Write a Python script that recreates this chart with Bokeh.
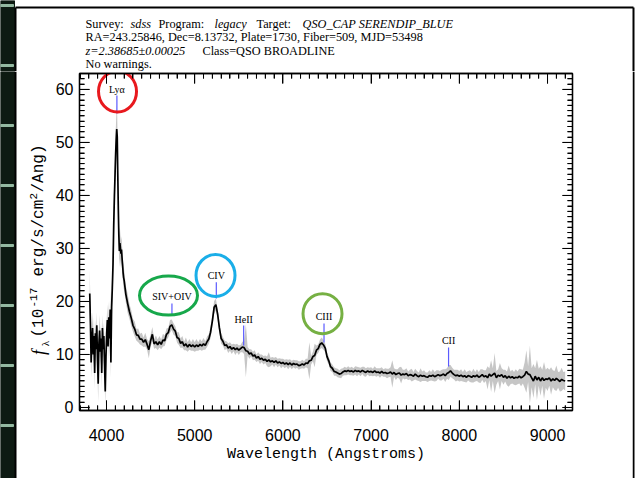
import numpy as np
from bokeh.plotting import figure
from bokeh.layouts import column, row
from bokeh.models import LinearAxis, SingleIntervalTicker, Range1d
from bokeh.core.properties import value
from bokeh.embed import file_html
from bokeh.resources import INLINE

# ---- spectrum: observed wavelength (Angstrom), flux and 1-sigma error ----
WAVE = [
    3810, 3818, 3826, 3834, 3842, 3850, 3858, 3866, 3874, 3882, 3890, 3898, 3906,
    3914, 3922, 3930, 3938, 3946, 3954, 3962, 3970, 3978, 3986, 3994, 4002, 4010,
    4018, 4026, 4034, 4042, 4050, 4058, 4066, 4074, 4082, 4090, 4098,
    4104, 4110, 4116, 4122, 4128, 4134, 4140, 4146, 4152, 4158, 4164, 4170, 4176,
    4182, 4188, 4194,
    4200, 4220, 4240, 4260, 4280, 4300, 4320, 4340, 4360, 4380,
    4400, 4420, 4440, 4460, 4480, 4500, 4520, 4540, 4560, 4580,
    4600, 4620, 4640, 4660, 4680, 4700, 4720, 4740, 4760, 4780,
    4800, 4820, 4840, 4860, 4880, 4900, 4920, 4940, 4960, 4980,
    5000, 5020, 5040, 5060, 5080, 5100, 5120, 5140, 5160, 5180,
    5200, 5220, 5240, 5260, 5280, 5300, 5320, 5340, 5360, 5380,
    5400, 5420, 5440, 5460, 5480, 5500, 5520, 5540, 5560, 5580,
    5600, 5620, 5640, 5660, 5680, 5700, 5720, 5740, 5760, 5780,
    5800, 5820, 5840, 5860, 5880, 5900, 5920, 5940, 5960, 5980,
    6000, 6020, 6040, 6060, 6080, 6100, 6120, 6140, 6160, 6180,
    6200, 6220, 6240, 6260, 6280, 6300, 6320, 6340, 6360, 6380,
    6400, 6420, 6440, 6460, 6480, 6500, 6520, 6540, 6560, 6580,
    6600, 6620, 6640, 6660, 6680, 6700, 6720, 6740, 6760, 6780,
    6800, 6820, 6840, 6860, 6880, 6900, 6920, 6940, 6960, 6980,
    7000, 7020, 7040, 7060, 7080, 7100, 7120, 7140, 7160, 7180,
    7200, 7220, 7240, 7260, 7280, 7300, 7320, 7340, 7360, 7380,
    7400, 7420, 7440, 7460, 7480, 7500, 7520, 7540, 7560, 7580,
    7600, 7620, 7640, 7660, 7680, 7700, 7720, 7740, 7760, 7780,
    7800, 7820, 7840, 7860, 7880, 7900, 7920, 7940, 7960, 7980,
    8000, 8020, 8040, 8060, 8080, 8100, 8120, 8140, 8160, 8180,
    8200, 8220, 8240, 8260, 8280, 8300, 8320, 8340, 8360, 8380,
    8400, 8420, 8440, 8460, 8480, 8500, 8520, 8540, 8560, 8580,
    8600, 8620, 8640, 8660, 8680, 8700, 8720, 8740, 8760, 8780,
    8800, 8820, 8840, 8860, 8880, 8900, 8920, 8940, 8960, 8980,
    9000, 9020, 9040, 9060, 9080, 9100, 9120, 9140, 9160, 9180,
    9200,
]

FLUX = [
    21.5, 16.0, 8.5, 12.5, 15.0, 10.0, 13.5, 6.5, 14.0, 11.0, 15.5, 9.0, 4.5,
    12.0, 14.5, 10.5, 13.0, 6.5, 15.0, 11.0, 13.5, 8.0, 3.0, 9.5, 14.0, 16.5,
    11.5, 17.0, 13.0, 18.5, 8.5, 19.0, 22.5, 27.0, 34.5, 40.0, 44.5,
    48.0, 50.5, 52.5, 51.0, 44.0, 37.5, 32.5, 29.5, 31.0, 30.0, 29.0, 29.8, 28.3,
    27.0, 25.5, 24.5,
    24.0, 21.3, 19.6, 18.1, 16.9, 15.5, 14.8, 13.7, 13.6, 12.9,
    12.9, 12.3, 12.8, 11.9, 10.9, 12.6, 13.8, 12.0, 12.4, 11.8,
    12.4, 11.9, 12.7, 12.6, 13.8, 14.1, 15.3, 15.6, 14.8, 14.4,
    13.2, 13.0, 12.1, 12.4, 11.6, 12.0, 11.4, 11.9, 11.5, 11.8,
    11.4, 11.8, 11.5, 11.9, 11.6, 12.0, 11.7, 12.4, 12.9, 14.2,
    16.3, 18.9, 19.4, 17.6, 15.0, 13.0, 12.5, 11.7, 11.8, 11.2,
    11.5, 11.0, 11.3, 10.9, 11.2, 10.8, 11.1, 11.4, 11.3, 10.7,
    10.6, 10.1, 10.3, 9.7, 9.9, 9.3, 9.6, 9.1, 9.3, 8.9,
    9.1, 8.7, 9.0, 8.6, 8.8, 8.5, 8.8, 8.4, 8.6, 8.3,
    8.5, 8.2, 8.4, 8.1, 8.4, 8.0, 8.3, 8.1, 8.2, 7.9,
    8.0, 8.2, 8.0, 8.4, 8.3, 8.8, 8.9, 9.6, 9.8, 10.8,
    11.1, 11.9, 12.2, 11.8, 11.2, 9.6, 8.8, 7.7, 7.4, 6.8,
    6.7, 6.5, 6.3, 6.4, 6.7, 6.9, 6.8, 7.0, 6.8, 6.9,
    6.7, 7.0, 6.8, 6.9, 6.7, 7.0, 6.8, 6.6, 6.9, 6.7,
    6.8, 6.6, 6.9, 6.6, 6.7, 6.5, 6.8, 6.5, 6.6, 6.4,
    6.5, 6.7, 6.3, 6.6, 6.2, 6.4, 6.5, 6.1, 6.3, 6.2,
    6.4, 6.0, 6.2, 6.1, 5.9, 6.3, 6.0, 5.8, 6.1, 5.9,
    6.0, 5.8, 5.7, 6.0, 5.9, 6.1, 5.8, 6.0, 6.2, 6.0,
    6.1, 6.3, 6.0, 6.4, 6.6, 6.9, 6.5, 6.2, 6.0, 6.1,
    5.9, 6.1, 5.8, 6.0, 5.7, 6.0, 5.9, 5.7, 6.0, 5.8,
    6.1, 5.7, 5.9, 6.2, 5.8, 6.0, 5.6, 6.3, 5.9, 6.2,
    6.5, 5.6, 6.1, 5.9, 6.2, 5.7, 6.0, 5.5, 5.9, 5.6,
    5.8, 5.5, 5.7, 5.6, 5.9, 5.6, 5.8, 6.1, 6.8, 6.3,
    6.2, 5.6, 5.0, 5.9, 5.2, 5.7, 5.0, 5.6, 5.1, 5.4,
    5.3, 5.6, 5.0, 5.4, 5.1, 5.5, 5.2, 4.9, 5.3, 5.1,
    5.0,
]

ERR = [
    4.5, 3.5, 3.0, 2.5, 3.0, 2.5, 3.5, 3.0, 2.5, 3.0, 2.5, 3.0, 3.5,
    2.5, 3.0, 2.5, 3.0, 3.0, 2.5, 3.0, 2.5, 3.0, 2.5, 3.0, 2.5, 3.0,
    2.5, 3.0, 3.0, 3.5, 3.0, 3.5, 3.5, 4.0, 4.0, 4.5, 4.0,
    4.0, 4.0, 4.5, 4.0, 3.5, 3.5, 3.0, 3.0, 3.0, 2.5, 2.5, 2.5, 2.5,
    2.0, 2.0, 2.0,
    2.0, 1.6, 1.8, 1.4, 1.5, 1.2, 1.4, 1.1, 1.3, 1.0,
    1.2, 0.9, 1.3, 1.0, 1.6, 1.1, 1.4, 0.9, 1.2, 1.0,
    1.1, 0.9, 1.2, 1.0, 1.1, 0.9, 1.2, 1.0, 1.1, 0.9,
    1.0, 1.2, 0.9, 1.1, 0.8, 1.2, 0.9, 1.0, 0.8, 1.1,
    0.9, 1.1, 0.8, 1.0, 0.9, 1.1, 0.8, 1.0, 0.9, 1.1,
    1.0, 1.2, 1.1, 1.0, 0.9, 1.0, 0.8, 0.9, 0.7, 0.9,
    0.8, 0.9, 0.7, 1.0, 0.8, 0.9, 0.7, 1.0, 1.2, 5.0,
    0.8, 0.9, 0.7, 0.8, 0.9, 0.7, 0.8, 0.9, 0.7, 0.8,
    0.7, 0.9, 1.4, 0.8, 0.7, 0.9, 0.7, 0.8, 0.7, 0.9,
    0.7, 0.8, 0.7, 0.9, 0.7, 0.8, 0.7, 0.8, 0.7, 0.8,
    0.7, 0.8, 0.7, 0.8, 0.9, 3.5, 0.8, 0.9, 2.2, 0.9,
    0.8, 0.9, 1.0, 0.9, 0.8, 0.9, 0.7, 0.8, 0.7, 0.8,
    0.7, 0.8, 0.7, 0.9, 0.7, 0.8, 0.7, 0.8, 0.7, 0.8,
    0.7, 0.8, 0.9, 0.7, 0.8, 0.7, 0.9, 0.8, 0.7, 0.8,
    0.8, 0.7, 0.9, 0.8, 0.7, 0.9, 0.8, 0.7, 0.8, 0.9,
    0.8, 0.9, 2.6, 0.8, 1.0, 0.8, 1.1, 1.6, 0.8, 0.9,
    1.0, 0.8, 0.9, 1.2, 0.8, 1.0, 0.9, 0.8, 1.3, 0.9,
    1.0, 0.8, 0.9, 1.0, 0.8, 1.1, 0.9, 1.0, 0.8, 0.9,
    1.0, 0.9, 1.2, 1.0, 1.4, 1.1, 1.0, 0.9, 1.1, 1.0,
    1.0, 1.1, 0.9, 1.2, 1.0, 0.9, 1.1, 1.0, 1.3, 0.9,
    1.1, 1.0, 1.3, 1.0, 1.2, 1.0, 2.2, 1.1, 3.0, 1.2,
    3.8, 1.3, 1.1, 2.5, 1.2, 1.4, 1.1, 1.3, 2.0, 1.2,
    1.3, 1.2, 1.5, 1.2, 1.4, 1.6, 1.3, 2.4, 4.0, 1.5,
    5.5, 1.8, 3.2, 1.5, 3.8, 1.6, 2.8, 1.5, 3.5, 1.7,
    2.2, 1.5, 2.6, 1.6, 1.8, 2.4, 1.5, 1.9, 2.2, 1.6,
    1.8,
]

# ---- emission-line identifications ----
LINE_NAMES = ["Lyα", "SIV+OIV", "CIV", "HeII", "CIII", "CII"]
LINE_WAVE = [4118, 4742, 5245, 5555, 6466, 7878]
LINE_TICK_LO = [55.45, 17.35, 20.56, 11.7, 12.26, 7.73]
LINE_TICK_HI = [58.85, 19.6, 23.6, 15.46, 15.84, 11.3]
LINE_LABEL_Y = [60.0, 20.9, 24.9, 16.6, 17.2, 12.6]

# highlight rings drawn around selected line labels
RING_X = [4125, 4703, 5236, 6449]
RING_Y = [59.6, 21.1, 24.9, 17.7]
RING_W = [38, 58, 39, 39]
RING_H = [41, 39, 42, 40]
RING_COLORS = ["#e8191e", "#17a84b", "#1aaee8", "#76b043"]

# header block: (text, italic, left edge in px)
HEADER = [
    [("Survey:", False, 85), ("sdss", True, 130), ("Program:", False, 158),
     ("legacy", True, 214), ("Target:", False, 256), ("QSO_CAP SERENDIP_BLUE", True, 302)],
    [("RA=243.25846, Dec=8.13732, Plate=1730, Fiber=509, MJD=53498", False, 85)],
    [("z=2.38685±0.00025", True, 85), ("Class=QSO BROADLINE", False, 202)],
    [("No warnings.", False, 85)],
]
HEADER_Y = [23, 36.5, 50, 63.5]

# axis ranges and tick spacing
X_RANGE = (3694, 9283)
Y_RANGE = (-0.57, 63.0)
X_MAJOR, X_MINOR = 1000, 100
Y_MAJOR, Y_MINOR = 10, 1

# page geometry (px)
W, H = 638, 483
HEAD_H = 71          # header strip height
BOT_H = 5            # strip below the plot row
LEFT_W = 50          # column holding the y title
RIGHT_W = 6
STRIP_W = 14
BORDER_X0, BORDER_X1, BORDER_Y0, BORDER_Y1 = 15, 633, 7, 480
MARK_Y = [5, 65, 125, 185, 245, 305, 365, 425]
STRIP_COLOR = "#0d1a12"
MARK_COLOR = "#93b8a0"
PAD_L, PAD_R, PAD_T, PAD_B = 29, 60, 2, 68
MAJOR_LEN, MINOR_LEN = 10, 5


def bare(width, height, x0, x1, y0, y1):
    """A figure without axes whose data coordinates are page pixels (y downwards)."""
    f = figure(width=width, height=height, x_range=Range1d(x0, x1), y_range=Range1d(y1, y0),
               x_axis_type=None, y_axis_type=None, min_border=0, frame_align=False,
               output_backend="svg", toolbar_location=None,
               background_fill_color="white", border_fill_color="white")
    f.outline_line_color = None
    return f


def strip(f, y0, y1):
    # dark strip at the page's left edge with its light marks
    f.quad(left=[0], right=[STRIP_W], top=[y0], bottom=[y1], color=STRIP_COLOR)
    my = [m for m in MARK_Y if y0 - 2 <= m <= y1 + 2]
    if my:
        f.quad(left=[0] * len(my), right=[STRIP_W - 1] * len(my),
               top=[m - 1 for m in my], bottom=[m + 1 for m in my], color=MARK_COLOR)


def side_lines(f, y0, y1):
    f.segment(x0=[BORDER_X0, BORDER_X1], y0=[max(y0, BORDER_Y0)] * 2,
              x1=[BORDER_X0, BORDER_X1], y1=[min(y1, BORDER_Y1)] * 2,
              line_color="black", line_width=2)


# ---- header ----
head = bare(W, HEAD_H, 0, W, 0, HEAD_H)
strip(head, 0, HEAD_H)
side_lines(head, 0, HEAD_H)
head.segment(x0=[BORDER_X0], y0=[BORDER_Y0], x1=[BORDER_X1], y1=[BORDER_Y0],
             line_color="black", line_width=2)
for pieces, yy in zip(HEADER, HEADER_Y):
    for txt, ital, xx in pieces:
        head.text(x=[xx], y=[yy], text=[txt], text_font=value("Liberation Serif"),
                  text_font_size="12.3px", text_font_style="italic" if ital else "normal",
                  text_align="left", text_baseline="middle", text_color="black")

# ---- main spectrum panel ----
MAIN_W = W - LEFT_W - RIGHT_W
MAIN_H = H - HEAD_H - BOT_H
FRAME_W = MAIN_W - PAD_L - PAD_R
FRAME_H = MAIN_H - PAD_T - PAD_B
wave = np.array(WAVE, dtype=float)
flux = np.array(FLUX)
err = np.array(ERR)

p = figure(width=MAIN_W, height=MAIN_H, output_backend="svg", toolbar_location=None,
           x_range=Range1d(*X_RANGE), y_range=Range1d(*Y_RANGE),
           min_border_left=PAD_L, min_border_right=PAD_R,
           min_border_top=PAD_T, min_border_bottom=PAD_B,
           frame_align=False, background_fill_color="white", border_fill_color="white")
p.grid.visible = False
p.outline_line_color = "black"
p.outline_line_width = 1.3

xt = SingleIntervalTicker(interval=X_MAJOR, num_minor_ticks=X_MAJOR // X_MINOR)
yt = SingleIntervalTicker(interval=Y_MAJOR, num_minor_ticks=Y_MAJOR // Y_MINOR)
bottom_ax = p.below[0]
left_ax = p.left[0]
bottom_ax.ticker = xt
left_ax.ticker = yt
top_ax = LinearAxis(ticker=xt, major_label_text_font_size="0px",
                    major_label_text_color=None, major_label_standoff=0)
right_ax = LinearAxis(ticker=yt, major_label_text_font_size="0px",
                      major_label_text_color=None, major_label_standoff=0)
p.add_layout(top_ax, "above")
p.add_layout(right_ax, "right")

for ax in (bottom_ax, left_ax, top_ax, right_ax):
    ax.axis_line_color = "black"
    ax.axis_line_width = 1.3
    ax.major_tick_in = MAJOR_LEN
    ax.major_tick_out = 0
    ax.minor_tick_in = MINOR_LEN
    ax.minor_tick_out = 0
    ax.major_tick_line_color = "black"
    ax.minor_tick_line_color = "black"
for ax in (bottom_ax, left_ax):
    ax.major_label_text_font = "Liberation Sans"
    ax.major_label_text_font_size = "16px"
    ax.major_label_text_color = "black"
bottom_ax.major_label_standoff = 18
left_ax.major_label_standoff = 6
bottom_ax.axis_label = "Wavelength (Angstroms)"
bottom_ax.axis_label_text_font = "Liberation Mono"
bottom_ax.axis_label_text_font_size = "15px"
bottom_ax.axis_label_text_font_style = "normal"
bottom_ax.axis_label_text_color = "black"
bottom_ax.axis_label_standoff = 2

# inward tick marks on all four sides of the frame
dx = (X_RANGE[1] - X_RANGE[0]) / FRAME_W      # data units per pixel
dy = (Y_RANGE[1] - Y_RANGE[0]) / FRAME_H
xmaj = np.arange(4000, X_RANGE[1], X_MAJOR)
xmin = np.array([v for v in np.arange(3700, X_RANGE[1], X_MINOR) if v % X_MAJOR])
ymaj = np.arange(0, Y_RANGE[1], Y_MAJOR)
ymin = np.array([v for v in np.arange(0, Y_RANGE[1], Y_MINOR) if v % Y_MAJOR])
for pos, ln in ((xmaj, MAJOR_LEN), (xmin, MINOR_LEN)):
    n = len(pos)
    p.segment(x0=np.r_[pos, pos], y0=np.r_[[Y_RANGE[0]] * n, [Y_RANGE[1]] * n],
              x1=np.r_[pos, pos], y1=np.r_[[Y_RANGE[0] + ln * dy] * n, [Y_RANGE[1] - ln * dy] * n],
              line_color="black", line_width=1)
for pos, ln in ((ymaj, MAJOR_LEN), (ymin, MINOR_LEN)):
    n = len(pos)
    p.segment(y0=np.r_[pos, pos], x0=np.r_[[X_RANGE[0]] * n, [X_RANGE[1]] * n],
              y1=np.r_[pos, pos], x1=np.r_[[X_RANGE[0] + ln * dx] * n, [X_RANGE[1] - ln * dx] * n],
              line_color="black", line_width=1)

# error band and flux
p.varea(x=wave, y1=flux - err, y2=flux + err, color="#c6c6c6")
p.line(wave, flux, color="black", line_width=1.7)

# line markers and names
p.segment(x0=LINE_WAVE, y0=LINE_TICK_LO, x1=LINE_WAVE, y1=LINE_TICK_HI,
          line_color="#5b5bff", line_width=1.2)
p.text(x=LINE_WAVE, y=LINE_LABEL_Y, text=LINE_NAMES, text_align="center",
       text_baseline="middle", text_font_size="10px", text_color="black",
       text_font=value("Liberation Serif"))
p.ellipse(x=RING_X, y=RING_Y, width=RING_W, height=RING_H,
          width_units="screen", height_units="screen",
          fill_color=None, line_color=RING_COLORS, line_width=3)

# ---- left column: page strip and the y title (reads bottom to top) ----
y_top, y_bot = HEAD_H, H - BOT_H
left = bare(LEFT_W, MAIN_H, 0, LEFT_W, y_top, y_bot)
strip(left, y_top, y_bot)
side_lines(left, y_top, y_bot)
YT_PARTS = [  # text, font, size, style, x, start y, align
    ("f", "Liberation Serif", "18px", "italic", 38, 352, "center"),
    ("λ", "Liberation Serif", "11px", "normal", 44, 343, "center"),
    ("(10", "Liberation Mono", "16px", "normal", 38, 337, "left"),
    ("-17", "Liberation Mono", "11px", "normal", 33, 307, "left"),
    ("erg/s/cm", "Liberation Mono", "16px", "normal", 38, 276, "left"),
    ("2", "Liberation Mono", "11px", "normal", 33, 199, "left"),
    ("/Ang)", "Liberation Mono", "16px", "normal", 38, 192, "left"),
]
for txt, fnt, size, style, xx, yy, align in YT_PARTS:
    left.text(x=[xx], y=[yy], text=[txt], text_font=value(fnt), text_font_size=size,
              text_font_style=style, angle=np.pi / 2, text_align=align,
              text_baseline="middle", text_color="black")

# ---- right column: border line ----
right = bare(RIGHT_W, MAIN_H, W - RIGHT_W, W, y_top, y_bot)
right.segment(x0=[BORDER_X1], y0=[y_top], x1=[BORDER_X1], y1=[y_bot],
              line_color="black", line_width=2)

# ---- bottom strip ----
bottom = bare(W, BOT_H, 0, W, y_bot, H)
strip(bottom, y_bot, H)
side_lines(bottom, y_bot, H)
bottom.segment(x0=[BORDER_X0], y0=[BORDER_Y1], x1=[BORDER_X1], y1=[BORDER_Y1],
               line_color="black", line_width=2)

page = column(head, row(left, p, right), bottom)
open("out.html", "w").write(file_html(page, INLINE))
